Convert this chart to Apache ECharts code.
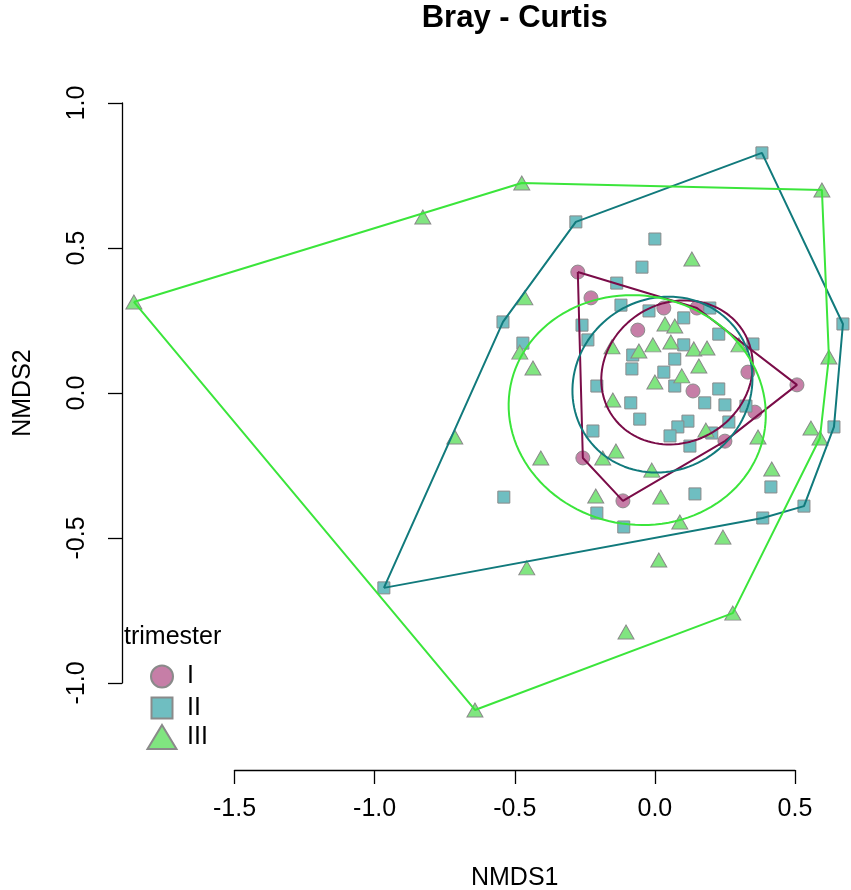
<!DOCTYPE html>
<html>
<head>
<meta charset="utf-8">
<script src="https://cdn.jsdelivr.net/npm/echarts@6/dist/echarts.min.js"></script>
<style>
  html, body { margin: 0; padding: 0; background: #fff; }
  #chart { width: 851px; height: 890px; }
</style>
</head>
<body>
<div id="chart"></div>
<script>
// NMDS scores per trimester group
const groups = ['I', 'II', 'III'];

const trimesterI = [
  [-0.275, 0.417], [-0.228, 0.328], [-0.061, 0.217], [0.032, 0.293],
  [0.150, 0.293], [0.332, 0.072], [0.136, 0.007], [0.507, 0.028],
  [0.357, -0.066], [0.250, -0.166], [-0.257, -0.224], [-0.114, -0.372]
];

const trimesterII = [
  [0.382, 0.828], [-0.282, 0.590], [-0.542, 0.245], [-0.471, 0.172],
  [-0.539, -0.359], [-0.967, -0.672], [0.000, 0.531], [-0.046, 0.434],
  [-0.136, 0.379], [-0.121, 0.303], [-0.021, 0.283], [0.196, 0.293],
  [0.103, 0.259], [-0.260, 0.234], [-0.239, 0.183], [0.103, 0.166],
  [-0.079, 0.131], [0.071, 0.117], [-0.082, 0.083], [0.032, 0.072],
  [0.228, 0.203], [0.350, 0.169], [0.671, 0.238], [0.071, 0.024],
  [-0.207, 0.024], [-0.086, -0.034], [0.178, -0.034], [-0.054, -0.090],
  [0.118, -0.097], [0.082, -0.117], [0.054, -0.148], [0.203, -0.138],
  [-0.221, -0.131], [0.125, -0.183], [0.143, -0.348], [-0.207, -0.414],
  [0.228, 0.014], [0.250, -0.041], [0.325, -0.045], [0.264, -0.100],
  [0.639, -0.117], [0.414, -0.324], [0.532, -0.390], [0.385, -0.431],
  [-0.111, -0.462]
];

const trimesterIII = [
  [-1.859, 0.314], [-0.828, 0.607], [-0.475, 0.724], [0.596, 0.700],
  [-0.464, 0.328], [-0.482, 0.141], [-0.435, 0.086], [-0.407, -0.224],
  [-0.714, -0.152], [0.132, 0.462], [0.036, 0.238], [0.071, 0.231],
  [-0.153, 0.159], [-0.057, 0.145], [-0.007, 0.166], [0.057, 0.176],
  [0.139, 0.152], [0.186, 0.155], [0.000, 0.038], [0.096, 0.059],
  [0.157, 0.093], [0.300, 0.166], [0.621, 0.124], [-0.150, -0.024],
  [0.182, -0.128], [-0.186, -0.224], [-0.139, -0.200], [-0.011, -0.266],
  [-0.211, -0.355], [0.021, -0.359], [0.089, -0.445], [0.368, -0.152],
  [0.557, -0.121], [0.589, -0.155], [0.417, -0.262], [-0.457, -0.603],
  [-0.103, -0.824], [-0.642, -1.093], [0.278, -0.759], [0.014, -0.576],
  [0.243, -0.497]
];

// ordiellipse outlines: centre, semi-axes, rotation (degrees)
const ellipseCentres = [[0.079, 0.071], [0.027, 0.029], [-0.063, -0.059]];
const ellipseAxes = [[0.276, 0.242], [0.326, 0.298], [0.460, 0.395]];
const ellipseAngles = [25, 25, -8];

const xTicks = [-1.5, -1.0, -0.5, 0.0, 0.5];
const yTicks = [-1.0, -0.5, 0.0, 0.5, 1.0];
// full plotting region (data extends past the labelled ticks)
const xRange = [-1.9, 0.7];
const yRange = [-1.2, 1.0];

const groupData = [trimesterI, trimesterII, trimesterIII];
const fills = ['#C67EA7', '#6FBEC1', '#80E580'];
const lineColors = ['#7A0C48', '#117A7C', '#3BE53B'];
const symbols = ['circle', 'rect', 'triangle'];
const symbolSizes = [14, 12, [16, 14]];
const legendIcons = [[22, 22], [21, 21], [29, 24]];
const legendCentres = [[161, 675], [161, 706], [161, 736]];
const font = '"Liberation Sans", Arial, Helvetica, sans-serif';

// px per data unit, shared by both grids
const pxX = 560.5 / (xTicks[4] - xTicks[0]);
const pxY = 580 / (yTicks[4] - yTicks[0]);
const tickLeft = 234.5, tickTop = 103;

function convexHull(pts) {
  const p = pts.slice().sort((a, b) => a[0] - b[0] || a[1] - b[1]);
  const cross = (o, a, b) => (a[0] - o[0]) * (b[1] - o[1]) - (a[1] - o[1]) * (b[0] - o[0]);
  const lower = [], upper = [];
  for (const q of p) {
    while (lower.length >= 2 && cross(lower[lower.length - 2], lower[lower.length - 1], q) <= 0) lower.pop();
    lower.push(q);
  }
  for (let i = p.length - 1; i >= 0; i--) {
    const q = p[i];
    while (upper.length >= 2 && cross(upper[upper.length - 2], upper[upper.length - 1], q) <= 0) upper.pop();
    upper.push(q);
  }
  upper.pop(); lower.pop();
  const h = lower.concat(upper);
  h.push(h[0]);
  return h;
}

function ellipsePath(c, ax, deg) {
  const th = deg * Math.PI / 180, out = [];
  for (let k = 0; k <= 120; k++) {
    const t = 2 * Math.PI * k / 120;
    const ex = ax[0] * Math.cos(t), ey = ax[1] * Math.sin(t);
    out.push([c[0] + ex * Math.cos(th) - ey * Math.sin(th),
              c[1] + ex * Math.sin(th) + ey * Math.cos(th)]);
  }
  return out;
}

const series = [];
groups.forEach((g, i) => {
  series.push({
    type: 'scatter', name: g, data: groupData[i], xAxisIndex: 1, yAxisIndex: 1,
    symbol: symbols[i], symbolSize: symbolSizes[i],
    itemStyle: { color: fills[i], borderColor: '#8a8a8a', borderWidth: 1, opacity: 1 },
    clip: false, z: 2, silent: true
  });
});
groups.forEach((g, i) => {
  series.push({
    type: 'line', data: convexHull(groupData[i]), xAxisIndex: 1, yAxisIndex: 1,
    symbol: 'none', showSymbol: false,
    lineStyle: { color: lineColors[i], width: 2 }, clip: false, z: 3, silent: true
  });
  series.push({
    type: 'line', data: ellipsePath(ellipseCentres[i], ellipseAxes[i], ellipseAngles[i]),
    xAxisIndex: 1, yAxisIndex: 1, symbol: 'none', showSymbol: false,
    lineStyle: { color: lineColors[i], width: 2 }, clip: false, z: 3, silent: true
  });
});

const axisLineStyle = { color: '#000', width: 1.3 };

const chart = echarts.init(document.getElementById('chart'));
chart.setOption({
  animation: false,
  textStyle: { fontFamily: font },
  title: [
    { text: 'Bray - Curtis', left: 514.75, top: 3, textAlign: 'center', padding: 0,
      textStyle: { fontSize: 31, fontWeight: 'bold', color: '#000', fontFamily: font } },
    { text: 'trimester', left: 124, top: 625, padding: 0,
      textStyle: { fontSize: 25, fontWeight: 'normal', color: '#000', fontFamily: font } }
  ],
  legend: groups.map((g, i) => ({
    data: [g], orient: 'vertical', padding: 0, selectedMode: false,
    icon: symbols[i],
    left: legendCentres[i][0] - legendIcons[i][0] / 2,
    top: legendCentres[i][1] - legendIcons[i][1] / 2,
    itemWidth: legendIcons[i][0], itemHeight: legendIcons[i][1],
    textStyle: { fontSize: 25, color: '#000', fontFamily: font,
                 padding: [0, 0, 0, 186 - (legendCentres[i][0] + legendIcons[i][0] / 2 + 5)] }
  })),
  grid: [
    // labelled axes span only the tick range, as in R
    { left: tickLeft, top: tickTop, width: 560.5, height: 580,
      containLabel: false, outerBoundsMode: 'none' },
    // data region
    { left: tickLeft + (xRange[0] - xTicks[0]) * pxX, top: tickTop + (yTicks[4] - yRange[1]) * pxY,
      width: (xRange[1] - xRange[0]) * pxX, height: (yRange[1] - yRange[0]) * pxY,
      containLabel: false, outerBoundsMode: 'none' }
  ],
  xAxis: [
    {
      type: 'value', gridIndex: 0, min: xTicks[0], max: xTicks[xTicks.length - 1], interval: 0.5,
      offset: 87,
      axisLine: { show: true, onZero: false, lineStyle: axisLineStyle },
      axisTick: { show: true, length: 14, lineStyle: axisLineStyle },
      axisLabel: { fontSize: 25, color: '#000', margin: 27, fontFamily: font,
                   formatter: v => v.toFixed(1) },
      splitLine: { show: false },
      name: 'NMDS1', nameLocation: 'middle', nameGap: 96,
      nameTextStyle: { fontSize: 25, color: '#000', fontFamily: font }
    },
    { type: 'value', gridIndex: 1, min: xRange[0], max: xRange[1], show: false,
      splitLine: { show: false } }
  ],
  yAxis: [
    {
      type: 'value', gridIndex: 0, min: yTicks[0], max: yTicks[yTicks.length - 1], interval: 0.5,
      offset: 112.5,
      axisLine: { show: true, onZero: false, lineStyle: axisLineStyle },
      axisTick: { show: true, length: 14, lineStyle: axisLineStyle },
      axisLabel: { fontSize: 25, color: '#000', margin: 32, rotate: 90, fontFamily: font,
                   formatter: v => v.toFixed(1) },
      splitLine: { show: false },
      name: 'NMDS2', nameLocation: 'middle', nameGap: 86, nameRotate: 90,
      nameTextStyle: { fontSize: 25, color: '#000', fontFamily: font }
    },
    { type: 'value', gridIndex: 1, min: yRange[0], max: yRange[1], show: false,
      splitLine: { show: false } }
  ],
  series: series
});
</script>
</body>
</html>
